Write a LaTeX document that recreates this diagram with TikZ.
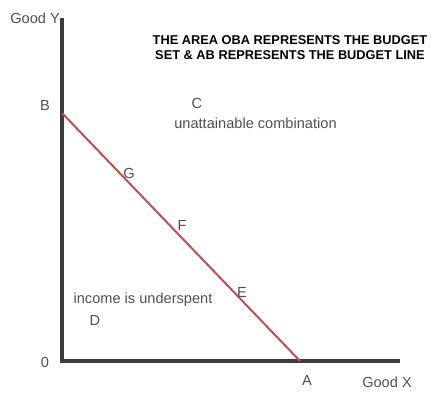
\documentclass[tikz,border=0pt]{standalone}
\usepackage{fontspec}
\setmainfont{Liberation Sans}
\definecolor{axisgray}{HTML}{3C3C3C}
\definecolor{txtgray}{HTML}{505050}
\definecolor{budgetred}{HTML}{C0504D}
\begin{document}
\begin{tikzpicture}[x=1pt,y=-1pt,
  lbl/.style={text=txtgray,font=\fontsize{14.6}{17}\selectfont,inner sep=0pt},
  ttl/.style={text=black,font=\bfseries\fontsize{12.8}{15}\selectfont,inner sep=0pt,align=center},
  axisline/.style={draw=axisgray,line width=4pt},
  budget/.style={draw=budgetred,line width=2pt}]
\useasboundingbox (0,0) rectangle (441,399);
\coordinate (O) at (62,361);
\coordinate (Ytop) at (62,18);
\coordinate (Xend) at (400,361);
\coordinate (Bpt) at (62,113);
\coordinate (Apt) at (300,361);
\draw[axisline] (Ytop) -- (O) -- (Xend);
\draw[budget] (Bpt) -- (Apt);
\node[lbl,anchor=east] (goody) at (60,18) {Good Y};
\node[ttl] (title) at (290,48) {THE AREA OBA REPRESENTS THE BUDGET\\SET \& AB REPRESENTS THE BUDGET LINE};
\node[lbl] (B) at (45,105) {B};
\node[lbl] (C) at (197,103) {C};
\node[lbl] (unatt) at (255.5,123) {unattainable combination};
\node[lbl] (G) at (129,173) {G};
\node[lbl] (F) at (182,225) {F};
\node[lbl] (E) at (242,292) {E};
\node[lbl] (under) at (143,300) {income is underspent};
\node[lbl] (D) at (95,320) {D};
\node[lbl] (zero) at (45,362) {0};
\node[lbl] (A) at (307,380) {A};
\node[lbl] (goodx) at (387,382) {Good X};
\end{tikzpicture}
\end{document}
